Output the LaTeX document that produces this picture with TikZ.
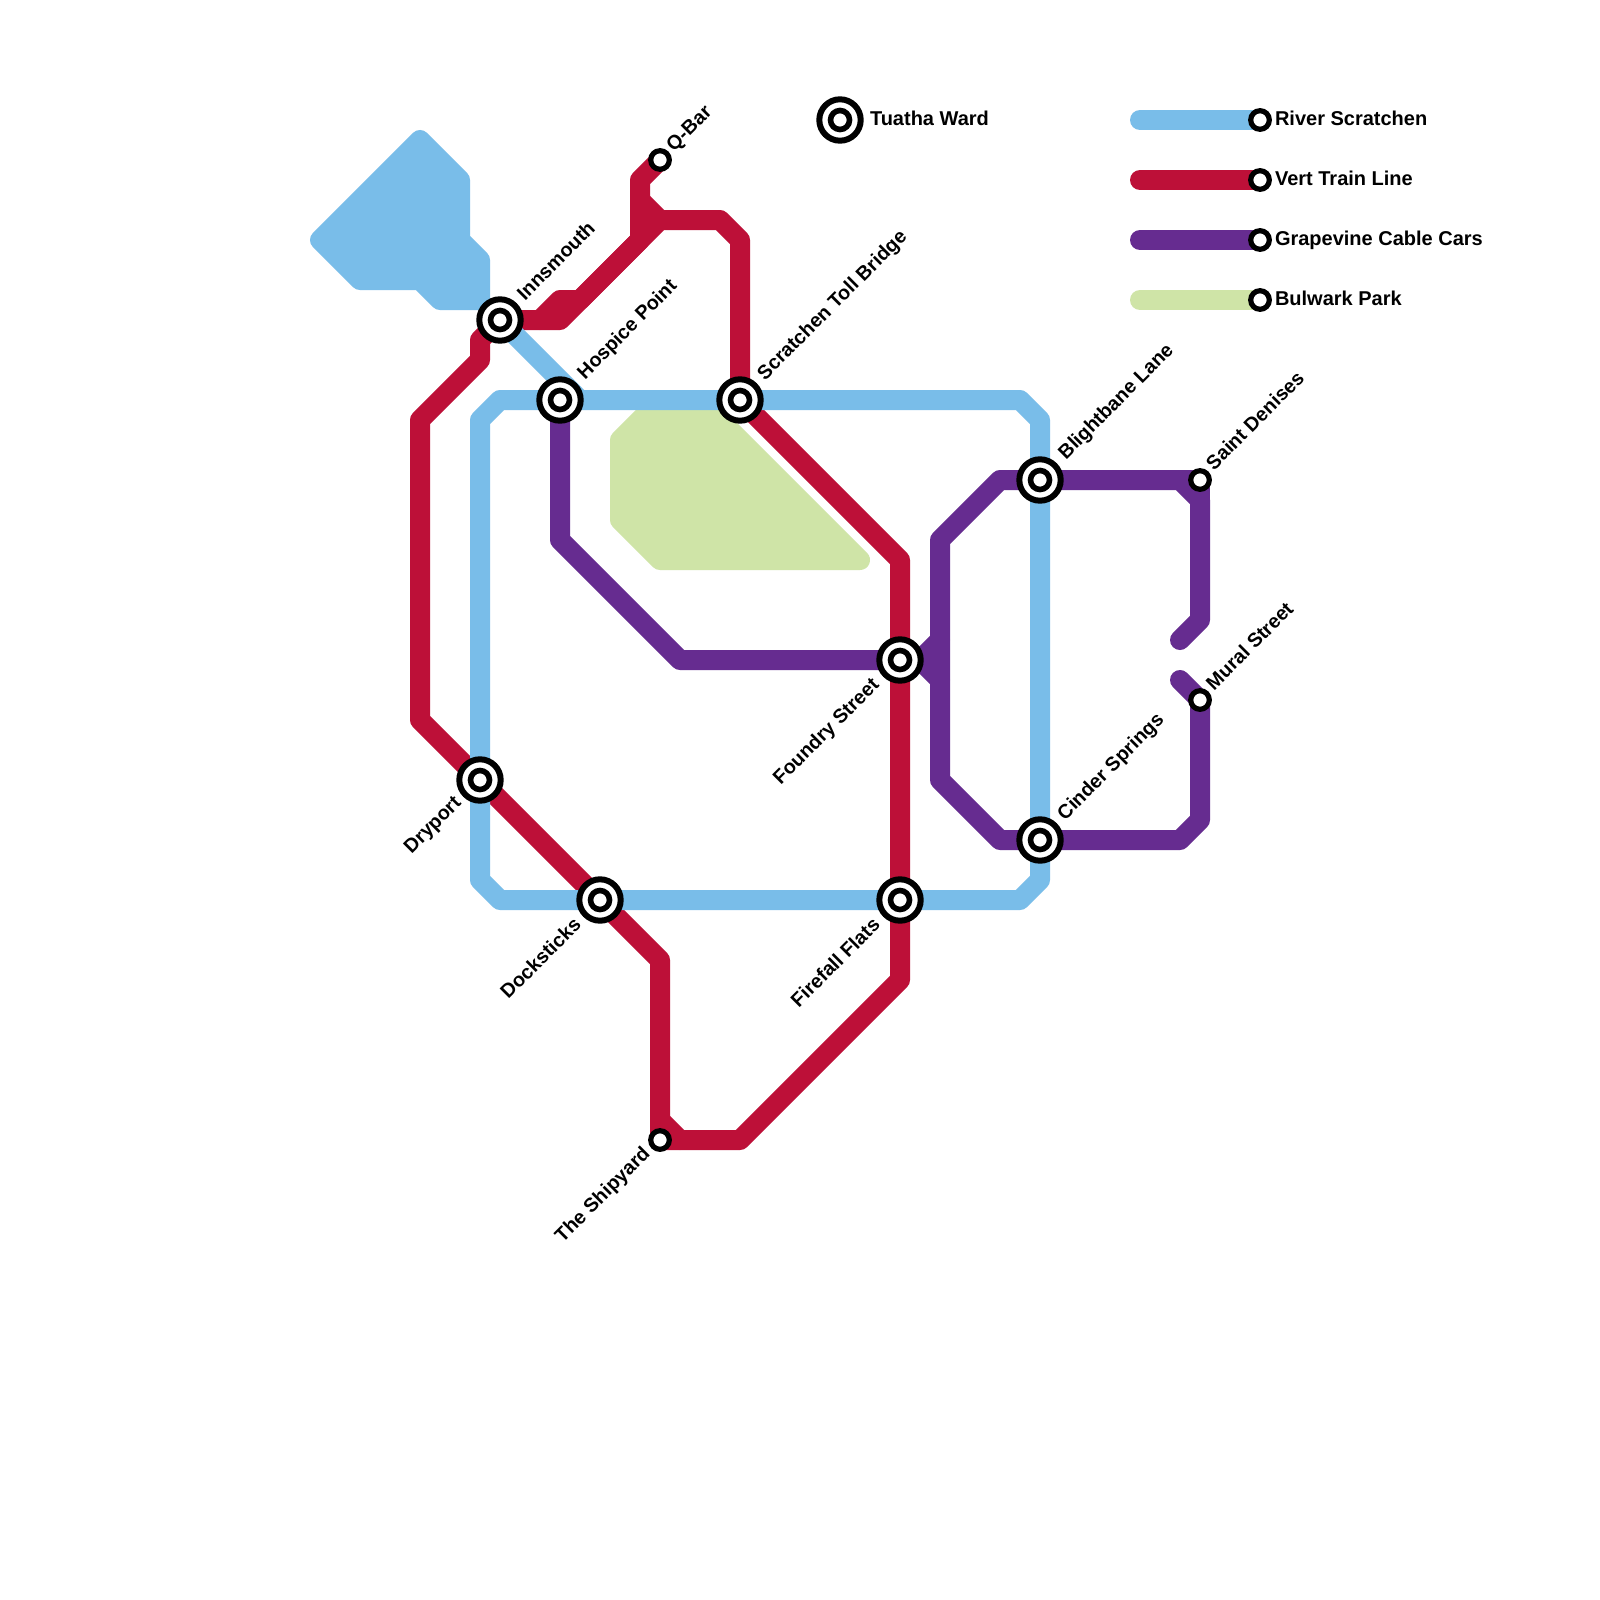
\documentclass[tikz,border=0pt]{standalone}
\usepackage{fontspec}
\setmainfont{Liberation Sans}[BoldFont={Liberation Sans Bold}]
\definecolor{riverblue}{HTML}{79BDE9}
\definecolor{vertred}{HTML}{BD1038}
\definecolor{grapepurple}{HTML}{662C90}
\definecolor{parkgreen}{HTML}{CFE4A7}
\tikzset{
  metro/.style={line width=20pt,line cap=round,line join=round},
  bigring/.style={circle,draw=black,fill=white,line width=6pt,minimum size=41.4pt,inner sep=0pt,outer sep=0pt},
  corering/.style={circle,draw=black,fill=white,line width=5.6pt,minimum size=19pt,inner sep=0pt,outer sep=0pt},
  smallring/.style={circle,draw=black,fill=white,line width=5.2pt,minimum size=18.6pt,inner sep=0pt,outer sep=0pt},
  lbl/.style={font=\fontsize{20pt}{24pt}\selectfont\bfseries,text=black,inner sep=0pt,outer sep=0pt},
  rlbl/.style={font=\fontsize{19.7pt}{24pt}\selectfont\bfseries,text=black,inner sep=0pt,outer sep=0pt},
  ne/.style={rlbl,rotate=45,anchor=base west},
  sw/.style={rlbl,rotate=45,anchor=base east},
  flat/.style={lbl,anchor=base west}
}
\begin{document}
\begin{tikzpicture}[x=1pt,y=-1pt]
\useasboundingbox (0,0) rectangle (1600,1600);
\fill[white] (0,0) rectangle (1600,1600);
% station positions
\coordinate (inn) at (500,320);
\coordinate (hos) at (560,400);
\coordinate (scr) at (740,400);
\coordinate (qba) at (660,160);
\coordinate (tua) at (840,120);
\coordinate (fou) at (900,660);
\coordinate (fir) at (900,900);
\coordinate (doc) at (600,900);
\coordinate (dry) at (480,780);
\coordinate (shi) at (660,1140);
\coordinate (bli) at (1040,480);
\coordinate (cin) at (1040,840);
\coordinate (sai) at (1200,480);
\coordinate (mur) at (1200,700);
\coordinate (ka) at (1260,120);
\coordinate (kb) at (1260,180);
\coordinate (kc) at (1260,240);
\coordinate (kd) at (1260,300);
\coordinate (la) at (1140,120);
\coordinate (lb) at (1140,180);
\coordinate (lc) at (1140,240);
\coordinate (ld) at (1140,300);
% park
\filldraw[metro,draw=parkgreen,fill=parkgreen] (660,400) -- (700,400) -- (860,560) -- (660,560) -- (620,520) -- (620,440) -- cycle;
% vert train
\draw[metro,vertred] (qba) -- (640,180) -- (640,240) -- (580,300) -- (560,300) -- (540,320);
\draw[metro,vertred] (640,200) -- (660,220);
\draw[metro,vertred] (inn) -- (560,320) -- (660,220) -- (720,220) -- (740,240) -- (scr) -- (900,560) -- (fou) -- (fir) -- (900,980) -- (740,1140) -- (shi) -- (660,960) -- (doc) -- (dry) -- (420,720) -- (420,420) -- (480,360) -- (480,340) -- (inn);
\draw[metro,vertred] (660,1120) -- (680,1140);
% river
\filldraw[metro,draw=riverblue,fill=riverblue] (420,140) -- (460,180) -- (460,240) -- (480,260) -- (480,300) -- (440,300) -- (420,280) -- (360,280) -- (320,240) -- cycle;
\draw[metro,riverblue] (inn) -- (580,400);
\draw[metro,riverblue] (hos) -- (scr) -- (1020,400) -- (1040,420) -- (bli) -- (cin) -- (1040,880) -- (1020,900) -- (fir) -- (doc) -- (500,900) -- (480,880) -- (dry) -- (480,420) -- (500,400) -- (hos);
% grapevine
\draw[metro,grapepurple] (hos) -- (560,540) -- (680,660) -- (fou) -- (920,660) -- (940,640);
\draw[metro,grapepurple] (920,660) -- (940,680);
\draw[metro,grapepurple] (1180,640) -- (1200,620) -- (1200,500) -- (1180,480) -- (bli) -- (1000,480) -- (940,540) -- (940,780) -- (1000,840) -- (cin) -- (1180,840) -- (1200,820) -- (mur) -- (1180,680);
\draw[metro,grapepurple] (bli) -- (sai) -- (1200,500);
% key
\draw[metro,riverblue] (la) -- (ka);
\draw[metro,vertred] (lb) -- (kb);
\draw[metro,grapepurple] (lc) -- (kc);
\draw[metro,parkgreen] (ld) -- (kd);
% stations
\foreach \s in {inn,hos,scr,tua,fou,fir,doc,dry,bli,cin}{
  \node[bigring] (\s-o) at (\s) {};
  \node[corering] (\s-i) at (\s) {};
}
\foreach \s in {qba,shi,sai,mur,ka,kb,kc,kd}{
  \node[smallring] (\s-i) at (\s) {};
}
% labels
\node[ne] (t-inn) at (525,301) {Innsmouth};
\node[ne] (t-hos) at (585,380) {Hospice Point};
\node[ne] (t-scr) at (765,381) {Scratchen Toll Bridge};
\node[ne] (t-qba) at (674,152) {Q-Bar};
\node[ne] (t-bli) at (1066,460) {Blightbane Lane};
\node[ne] (t-cin) at (1065,821) {Cinder Springs};
\node[ne] (t-sai) at (1214,471) {Saint Denises};
\node[ne] (t-mur) at (1214,691) {Mural Street};
\node[sw] (t-fou) at (880,686) {Foundry Street};
\node[sw] (t-fir) at (881,926) {Firefall Flats};
\node[sw] (t-doc) at (582,926) {Docksticks};
\node[sw] (t-dry) at (462,804) {Dryport};
\node[sw] (t-shi) at (651,1155) {The Shipyard};
\node[flat] (t-tua) at (870,125) {Tuatha Ward};
\node[flat] (t-a) at (1275,125) {River Scratchen};
\node[flat] (t-b) at (1275,185) {Vert Train Line};
\node[flat] (t-c) at (1275,245) {Grapevine Cable Cars};
\node[flat] (t-d) at (1275,305) {Bulwark Park};
\end{tikzpicture}
\end{document}
